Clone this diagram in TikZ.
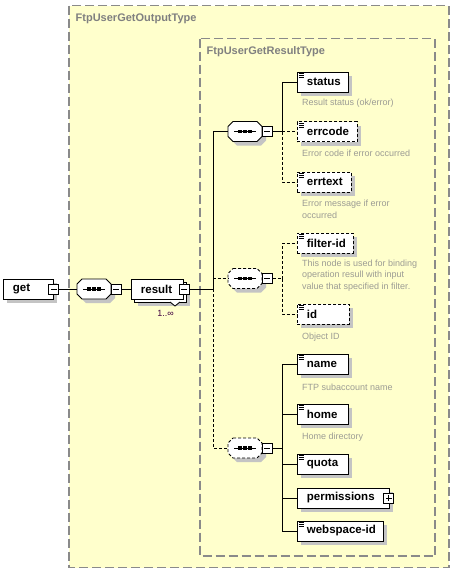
\documentclass[tikz,border=0pt]{standalone}
\usepackage{fontspec}
\setmainfont{Liberation Sans}
\usetikzlibrary{shadows}
\definecolor{bgy}{HTML}{FFFFCC}
\definecolor{frame}{HTML}{8A8A8A}
\definecolor{ttlc}{HTML}{808080}
\definecolor{desc}{HTML}{9C9C94}
\definecolor{shd}{HTML}{C4C4C4}
\definecolor{occ}{HTML}{400040}
\tikzset{
  container/.style={draw=frame, fill=bgy, line width=1.2pt, dash pattern=on 9pt off 4pt},
  ttl/.style={text=ttlc, font=\fontsize{11}{13}\selectfont\bfseries, anchor=west, inner sep=0pt},
  shad/.style={general shadow={fill=shd, draw=none, shadow xshift=4pt, shadow yshift=-4pt}},
  elbox/.style={draw=black, line width=0.8pt, fill=white, minimum height=20pt, inner xsep=0pt, inner ysep=0pt,
    text width=#1, align=left, anchor=west, font=\fontsize{11.5}{13}\selectfont\bfseries,
    execute at begin node={\hspace*{9.5pt}}},
  icon/.style={path picture={
    \draw[line width=0.7pt, solid] ([xshift=1.5pt,yshift=-1.8pt]path picture bounding box.north west) -- ++(5pt,0pt)
      ([xshift=1.5pt,yshift=-3.8pt]path picture bounding box.north west) -- ++(5pt,0pt)
      ([xshift=1.5pt,yshift=-5.8pt]path picture bounding box.north west) -- ++(5pt,0pt);}},
  opt/.style={dash pattern=on 3pt off 2pt},
  conn/.style={line width=0.8pt},
  tog/.style={draw=black, line width=0.8pt, fill=white, minimum size=10pt, inner sep=0pt,
    path picture={\draw[line width=0.8pt] ([xshift=2pt]path picture bounding box.west) -- ([xshift=-2pt]path picture bounding box.east);}},
  togplus/.style={tog, path picture={\draw[line width=0.8pt] ([xshift=2pt]path picture bounding box.west) -- ([xshift=-2pt]path picture bounding box.east)
      ([yshift=2pt]path picture bounding box.south) -- ([yshift=-2pt]path picture bounding box.north);}},
  seqanchor/.style={draw=none, minimum width=34pt, minimum height=20pt, inner sep=0pt, outer sep=0pt},
  desctext/.style={text=desc, font=\fontsize{9}{11.5}\selectfont, anchor=west, inner sep=0pt, align=left},
}
% octagon of a sequence compositor, drawn on the anchors of node #1
\newcommand\octpath[1]{([xshift=5pt]#1.north west) -- ([xshift=-5pt]#1.north east) -- ([yshift=-5pt]#1.north east)
  -- ([yshift=5pt]#1.south east) -- ([xshift=-5pt]#1.south east) -- ([xshift=5pt]#1.south west)
  -- ([yshift=5pt]#1.south west) -- ([yshift=-5pt]#1.north west) -- cycle}
\newcommand\seqdraw[2]{%
  \fill[shd, transform canvas={shift={(4pt,-4pt)}}] \octpath{#1};
  \draw[line width=0.8pt, fill=white, #2] \octpath{#1};
  \draw[line width=0.8pt] ([xshift=-11pt]#1.center) -- ([xshift=11pt]#1.center);
  \foreach \d in {-5,0,5} {\fill ([xshift=\d*1pt]#1.center) +(-1.6pt,-1.6pt) rectangle +(1.6pt,1.6pt);}
}
\begin{document}
\begin{tikzpicture}[x=1pt,y=-1pt]
\useasboundingbox (0,0) rectangle (452,571);
% containers
\draw[container] (69,5.5) rectangle (449,567.5);
\node[ttl] (t1) at (75.5,19) {FtpUserGetOutputType};
\draw[container] (200,38.5) rectangle (435,556);
\node[ttl] (t2) at (206.5,52) {FtpUserGetResultType};

% root element
\node[elbox=50pt, shad] (get) at (3,289) {get};
\node[tog] (getm) at (get.east) {};
% main sequence
\node[seqanchor] (s0) at (94,289) {};
\seqdraw{s0}{solid}
\node[tog, anchor=west] (s0m) at (s0.east) {};
% result (multiple)
\node[draw=black, line width=0.8pt, fill=white, minimum width=52pt, minimum height=20pt, inner sep=0pt, anchor=west, shad] (resback) at (134,292) {};
\fill[white] (170,301.6) -- (175,306) -- (180,301.6) -- cycle;
\draw[line width=0.8pt] (170,302) -- (175,306) -- (180,302);
\node[elbox=52pt] (result) at (131,289) {result};
\node[tog] (resm) at ([xshift=0.5pt]result.east) {};
\node[text=occ, font=\fontsize{9}{11}\selectfont, inner sep=0pt] (occur) at (165.5,313) {1..∞};

\draw[conn] (getm.east) -- (s0.west);
\draw[conn] (s0m.east) -- (result.west);

% junction
\coordinate (j0) at (213,289);
\draw[conn] (resm.east) -- (j0);

% sequences
\node[seqanchor] (s1) at (245,131.5) {};
\seqdraw{s1}{solid}
\node[tog, anchor=west] (s1m) at (s1.east) {};
\node[seqanchor] (s2) at (245,278.5) {};
\seqdraw{s2}{opt}
\node[tog, anchor=west] (s2m) at (s2.east) {};
\node[seqanchor] (s3) at (245,448) {};
\seqdraw{s3}{opt}
\node[tog, anchor=west] (s3m) at (s3.east) {};

\draw[conn] (j0) |- (s1.west);
\draw[conn, opt] (j0) |- (s2.west);
\draw[conn, opt] (j0) |- (s3.west);

% group 1
\node[elbox=51pt, shad, icon] (status) at (297,82) {status};
\node[desctext] (dstatus) at (302,103) {Result status (ok/error)};
\node[elbox=60pt, shad, icon, opt] (errcode) at (297,131.5) {errcode};
\node[desctext] (derrcode) at (302,153) {Error code if error occurred};
\node[elbox=54pt, shad, icon, opt] (errtext) at (297,182) {errtext};
\node[desctext] (derrtext) at (302,209.5) {Error message if error\\occurred};
\coordinate (b1) at (282,131.5);
\draw[conn] (s1m.east) -- (b1);
\draw[conn] (b1) |- (status.west);
\draw[conn, opt] (b1) -- (errcode.west);
\draw[conn, opt] (b1) |- (errtext.west);

% group 2
\node[elbox=56pt, shad, icon, opt] (filterid) at (297,243) {filter-id};
\node[desctext] (dfilterid) at (302,275.5) {This node is used for binding\\operation resull with input\\value that specified in filter.};
\node[elbox=52pt, shad, icon, opt] (id) at (297,314) {id};
\node[desctext] (did) at (302,337) {Object ID};
\coordinate (b2) at (282,278.5);
\draw[conn, opt] (s2m.east) -- (b2);
\draw[conn, opt] (b2) |- (filterid.west);
\draw[conn, opt] (b2) |- (id.west);

% group 3
\node[elbox=51pt, shad, icon] (name) at (297,364) {name};
\node[desctext] (dname) at (302,387) {FTP subaccount name};
\node[elbox=51pt, shad, icon] (home) at (297,414) {home};
\node[desctext] (dhome) at (302,437) {Home directory};
\node[elbox=51pt, shad, icon] (quota) at (297,464) {quota};
\node[elbox=92pt, shad] (perm) at (297,498) {permissions};
\node[togplus] (permp) at ([xshift=-1pt]perm.east) {};
\node[elbox=86pt, shad, icon] (wsid) at (297,531) {webspace-id};
\coordinate (b3) at (282,448);
\draw[conn] (s3m.east) -- (b3);
\draw[conn] (b3) |- (name.west);
\draw[conn] (b3) |- (home.west);
\draw[conn] (b3) |- (quota.west);
\draw[conn] (b3) |- (perm.west);
\draw[conn] (b3) |- (wsid.west);
\end{tikzpicture}
\end{document}
